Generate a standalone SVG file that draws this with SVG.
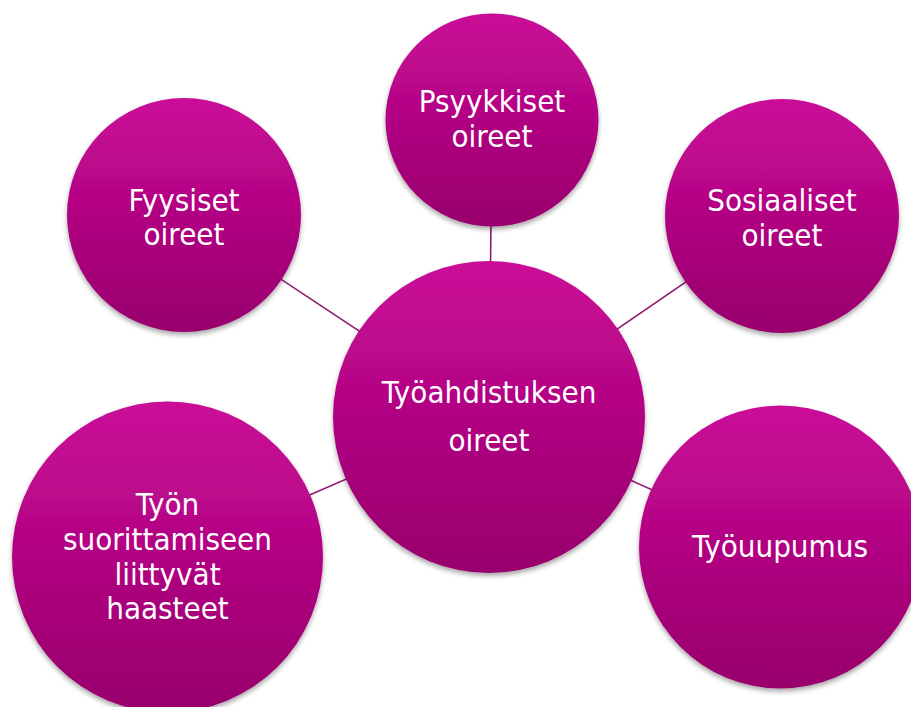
<svg xmlns="http://www.w3.org/2000/svg" width="911" height="707" viewBox="0 0 911 707">
<defs>
<linearGradient id="g" x1="0" y1="0" x2="0" y2="1">
<stop offset="0" stop-color="#CA0A98"/>
<stop offset="1" stop-color="#98006C"/>
</linearGradient>
<filter id="sh" x="-10%" y="-10%" width="120%" height="125%">
<feGaussianBlur in="SourceAlpha" stdDeviation="2.5"/>
<feOffset dx="0" dy="3" result="b"/>
<feComponentTransfer><feFuncA type="linear" slope="0.35"/></feComponentTransfer>
<feMerge><feMergeNode/><feMergeNode in="SourceGraphic"/></feMerge>
</filter>
</defs>
<style>
.n{fill:url(#g);filter:url(#sh)}
.t{fill:#fff;font-family:"DejaVu Sans Condensed","DejaVu Sans",sans-serif;font-stretch:condensed;font-size:31px;text-anchor:middle}
.c{stroke:#8E1D6E;stroke-width:1.6;fill:none}
</style>
<rect width="911" height="707" fill="#fff"/>
<g id="connectors">
<line class="c" x1="489" y1="417" x2="492" y2="120"/>
<line class="c" x1="489" y1="417" x2="184" y2="215"/>
<line class="c" x1="489" y1="417" x2="782" y2="216"/>
<line class="c" x1="489" y1="417" x2="167" y2="557"/>
<line class="c" x1="489" y1="417" x2="780" y2="547"/>
</g>
<g id="psyykkiset">
<circle class="n" cx="492" cy="120" r="106.5"/>
<text class="t" x="492" y="112">Psyykkiset</text>
<text class="t" x="492" y="147">oireet</text>
</g>
<g id="fyysiset">
<circle class="n" cx="184" cy="215" r="117"/>
<text class="t" x="184" y="211">Fyysiset</text>
<text class="t" x="184" y="245">oireet</text>
</g>
<g id="sosiaaliset">
<circle class="n" cx="782" cy="216" r="117"/>
<text class="t" x="782" y="211">Sosiaaliset</text>
<text class="t" x="782" y="246">oireet</text>
</g>
<g id="tyon-suorittaminen">
<circle class="n" cx="167.5" cy="557" r="155.5"/>
<text class="t" x="167.5" y="515">Työn</text>
<text class="t" x="167.5" y="550">suorittamiseen</text>
<text class="t" x="167.5" y="585">liittyvät</text>
<text class="t" x="167.5" y="619">haasteet</text>
</g>
<g id="tyouupumus">
<circle class="n" cx="780.5" cy="547" r="141.5"/>
<text class="t" x="780" y="557">Työuupumus</text>
</g>
<g id="keskus">
<circle class="n" cx="489" cy="417" r="156"/>
<text class="t" x="489" y="403">Työahdistuksen</text>
<text class="t" x="489" y="451">oireet</text>
</g>
</svg>
